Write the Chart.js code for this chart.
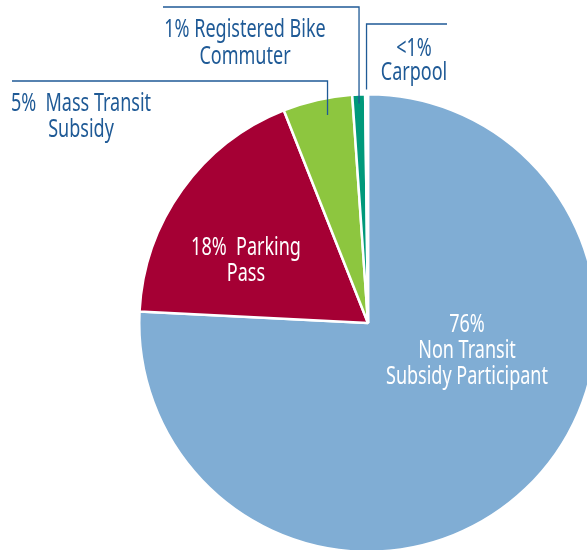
<!DOCTYPE html>
<html>
<head>
<meta charset="utf-8">
<script src="https://cdn.jsdelivr.net/npm/chart.js@4"></script>
<style>
  html, body { margin: 0; padding: 0; background: #fff; overflow: hidden; width: 587px; height: 550px; }
  #wrap { position: absolute; left: 0; top: 0; width: 640px; height: 560px; }
</style>
</head>
<body>
<div id="wrap"><canvas id="pie-chart"></canvas></div>
<script>
// data, in clockwise order from 12 o'clock
var categories = ["Non Transit Subsidy Participant", "Parking Pass", "Mass Transit Subsidy", "Registered Bike Commuter", "Carpool"];
var shares = [75.8, 18.2, 4.9, 0.9, 0.2];
var shareLabels = ["76%", "18%", "5%", "1%", "<1%"];
var sliceColors = ["#80add4", "#a50034", "#8dc63f", "#00997a", "#ffffff"];

var labelFont = '"Noto Sans", sans-serif';
var outerBlue = "#1f5a96";

// where each label goes; lines run from the slice to an elbow then along to the text
var labelSetup = [
    { lines: [shareLabels[0], "Non Transit", "Subsidy Participant"], x: 467, y: 325, gap: 26, color: "#fff" },
    { lines: [shareLabels[1] + "  Parking", "Pass"], x: 246, y: 248, gap: 26, color: "#fff" },
    { lines: [shareLabels[2] + "  Mass Transit", "Subsidy"], x: 81, y: 104, gap: 26, color: outerBlue,
      along: 0.6, radius: 0.916, elbowY: 81, endX: 12 },
    { lines: [shareLabels[3] + " Registered Bike", "Commuter"], x: 245, y: 30, gap: 27, color: outerBlue,
      along: 0.5, radius: 0.95, elbowY: 7, endX: 163 },
    { lines: [shareLabels[4], "Carpool"], x: 414, y: 49, gap: 24, color: outerBlue,
      along: 0.5, radius: 1.01, elbowY: 24, endX: 447 }
];

var labelPlugin = {
    id: 'pieLabels',
    afterDraw: function(chart) {
        var ctx = chart.ctx;
        var arcs = chart.getDatasetMeta(0).data;
        ctx.save();
        ctx.font = '25px ' + labelFont;
        // squeeze the font to look like the condensed face of the original
        var squeeze = 162 / ctx.measureText("Subsidy Participant").width;
        labelSetup.forEach(function(setup, i) {
            var arc = arcs[i];
            if (setup.elbowY !== undefined) {
                var p = arc.getProps(['x', 'y', 'startAngle', 'endAngle', 'outerRadius'], true);
                var a = p.startAngle + (p.endAngle - p.startAngle) * setup.along;
                var r = (p.outerRadius + 2.5) * setup.radius;
                var ax = p.x + Math.cos(a) * r;
                var ay = p.y + Math.sin(a) * r;
                ctx.strokeStyle = outerBlue;
                ctx.lineWidth = 1.3;
                ctx.beginPath();
                ctx.moveTo(ax, ay);
                ctx.lineTo(ax, setup.elbowY);
                ctx.lineTo(setup.endX, setup.elbowY);
                ctx.stroke();
            }
            ctx.fillStyle = setup.color;
            ctx.textAlign = 'center';
            ctx.textBaseline = 'middle';
            setup.lines.forEach(function(line, j) {
                ctx.save();
                ctx.translate(setup.x, setup.y + j * setup.gap);
                ctx.scale(squeeze, 1);
                ctx.fillText(line, 0, 0);
                ctx.restore();
            });
        });
        ctx.restore();
    }
};

var chartPie = new Chart(document.getElementById('pie-chart'), {
    type: 'pie',
    data: {
        labels: categories,
        datasets: [{
            data: shares,
            backgroundColor: sliceColors,
            borderColor: '#ffffff',
            borderWidth: 2.5
        }]
    },
    options: {
        responsive: true,
        maintainAspectRatio: false,
        animation: false,
        layout: {
            padding: { left: 138, top: 93, right: 42, bottom: 7 }
        },
        plugins: {
            legend: { display: false },
            tooltip: { enabled: false }
        }
    },
    plugins: [labelPlugin]
});
</script>
</body>
</html>
